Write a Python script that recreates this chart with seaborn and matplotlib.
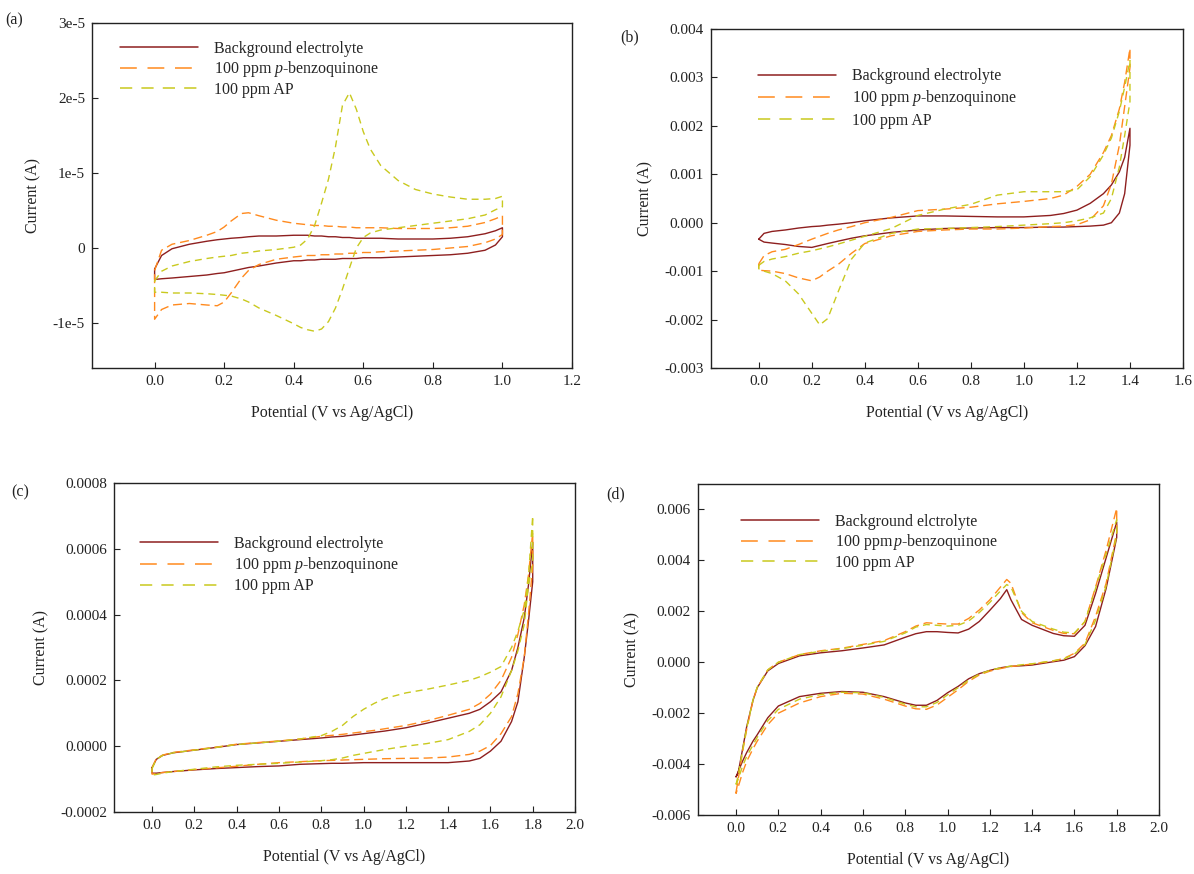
import matplotlib
matplotlib.use("Agg")
import matplotlib.pyplot as plt
from matplotlib.lines import Line2D
import numpy as np
import pandas as pd
import seaborn as sns

# ---------------- data ----------------
SERIES = ["Background electrolyte", "100 ppm $\\mathit{p}$-benzoquinone", "100 ppm AP"]
SERIES_D = ["Background elctrolyte", "100 ppm$\\,\\mathit{p}$-benzoquinone", "100 ppm AP"]

# Panel (a): current in units of 1e-5 A
A_E = [0, 0.02, 0.05, 0.1, 0.15, 0.18, 0.2, 0.22, 0.25, 0.27, 0.3, 0.35, 0.4, 0.42, 0.44, 0.46, 0.48,
       0.5, 0.52, 0.54, 0.56, 0.58, 0.6, 0.62, 0.65, 0.7, 0.75, 0.8, 0.85, 0.9, 0.95, 0.98, 1.0]
A_BG_UP = [-0.28, -0.1, -0.01, 0.05, 0.09, 0.11, 0.12, 0.13, 0.14, 0.15, 0.16, 0.16, 0.17, 0.17, 0.17, 0.16, 0.16,
           0.15, 0.15, 0.14, 0.14, 0.13, 0.13, 0.13, 0.13, 0.12, 0.12, 0.12, 0.13, 0.15, 0.19, 0.23, 0.27]
A_BG_DN = [-0.42, -0.41, -0.4, -0.38, -0.36, -0.34, -0.33, -0.31, -0.28, -0.26, -0.24, -0.2, -0.17, -0.17, -0.16, -0.16, -0.15,
           -0.15, -0.15, -0.14, -0.14, -0.14, -0.13, -0.13, -0.13, -0.12, -0.11, -0.1, -0.09, -0.07, -0.03, 0.04, 0.15]
A_BQ_UP = [-0.3, -0.03, 0.05, 0.1, 0.17, 0.22, 0.28, 0.36, 0.46, 0.47, 0.43, 0.37, 0.33, 0.32, 0.31, 0.3, 0.3,
           0.29, 0.29, 0.28, 0.28, 0.27, 0.27, 0.27, 0.27, 0.26, 0.26, 0.26, 0.27, 0.29, 0.34, 0.39, 0.43]
A_BQ_DN = [-0.95, -0.82, -0.76, -0.74, -0.76, -0.77, -0.72, -0.6, -0.4, -0.3, -0.22, -0.15, -0.12, -0.11, -0.1, -0.1, -0.09,
           -0.09, -0.08, -0.08, -0.07, -0.07, -0.06, -0.06, -0.05, -0.04, -0.03, -0.02, 0.0, 0.02, 0.07, 0.12, 0.18]
A_AP_UP = [-0.44, -0.31, -0.24, -0.18, -0.14, -0.12, -0.11, -0.1, -0.07, -0.06, -0.04, -0.02, 0.01, 0.04, 0.12, 0.3, 0.6,
           0.92, 1.35, 1.9, 2.07, 1.85, 1.55, 1.32, 1.1, 0.9, 0.78, 0.72, 0.68, 0.65, 0.65, 0.66, 0.69]
A_AP_DN = [-0.59, -0.59, -0.6, -0.6, -0.61, -0.62, -0.63, -0.64, -0.68, -0.72, -0.8, -0.9, -1.01, -1.06, -1.09, -1.11, -1.08,
           -0.98, -0.8, -0.55, -0.27, 0.0, 0.14, 0.2, 0.24, 0.27, 0.3, 0.33, 0.36, 0.39, 0.44, 0.51, 0.55]
A_SCALE = 1e-5

# Panel (b): current in mA
B_E = [0, 0.02, 0.05, 0.1, 0.15, 0.2, 0.23, 0.26, 0.3, 0.35, 0.4, 0.5, 0.6, 0.7, 0.8, 0.9, 1.0,
       1.1, 1.15, 1.2, 1.25, 1.3, 1.33, 1.36, 1.38, 1.4]
B_BG_UP = [-0.34, -0.22, -0.18, -0.15, -0.11, -0.08, -0.07, -0.05, -0.03, 0.0, 0.04, 0.1, 0.14, 0.14, 0.13, 0.12, 0.12,
           0.15, 0.19, 0.26, 0.4, 0.6, 0.78, 1.05, 1.35, 1.95]
B_BG_DN = [-0.34, -0.4, -0.42, -0.45, -0.49, -0.51, -0.47, -0.43, -0.38, -0.32, -0.27, -0.2, -0.15, -0.12, -0.11, -0.1, -0.1,
           -0.09, -0.09, -0.08, -0.07, -0.05, 0.0, 0.2, 0.6, 1.6]
B_BQ_UP = [-0.85, -0.68, -0.6, -0.55, -0.45, -0.34, -0.28, -0.22, -0.15, -0.08, 0.0, 0.11, 0.25, 0.28, 0.32, 0.39, 0.44,
           0.5, 0.57, 0.75, 1.0, 1.45, 1.8, 2.35, 2.9, 3.6]
B_BQ_DN = [-0.98, -0.99, -1.0, -1.05, -1.14, -1.2, -1.12, -1.0, -0.86, -0.63, -0.43, -0.27, -0.18, -0.15, -0.13, -0.13, -0.11,
           -0.08, -0.07, -0.04, 0.06, 0.35, 0.8, 1.6, 2.4, 3.2]
B_AP_UP = [-0.88, -0.8, -0.75, -0.7, -0.63, -0.58, -0.54, -0.5, -0.44, -0.36, -0.28, -0.12, 0.15, 0.28, 0.38, 0.57, 0.64,
           0.64, 0.64, 0.68, 0.95, 1.4, 1.75, 2.3, 2.8, 3.35]
B_AP_DN = [-0.95, -1.0, -1.05, -1.2, -1.47, -1.87, -2.11, -1.98, -1.42, -0.75, -0.42, -0.22, -0.13, -0.12, -0.1, -0.08, -0.05,
           -0.02, 0.0, 0.04, 0.1, 0.2, 0.5, 1.15, 1.8, 2.5]
B_SCALE = 1e-3

# Panel (c): current in units of 1e-4 A
C_E = [0, 0.02, 0.05, 0.1, 0.2, 0.3, 0.4, 0.5, 0.6, 0.7, 0.8, 0.85, 0.9, 0.95, 1.0, 1.05, 1.1,
       1.2, 1.3, 1.4, 1.5, 1.55, 1.6, 1.65, 1.7, 1.73, 1.76, 1.78, 1.8]
C_BG_UP = [-0.65, -0.4, -0.28, -0.2, -0.12, -0.04, 0.05, 0.1, 0.15, 0.2, 0.25, 0.28, 0.3, 0.34, 0.38, 0.42, 0.46,
           0.56, 0.7, 0.85, 1.0, 1.12, 1.35, 1.65, 2.3, 3.0, 3.9, 4.9, 6.2]
C_BG_DN = [-0.82, -0.82, -0.8, -0.77, -0.72, -0.68, -0.65, -0.62, -0.6, -0.55, -0.53, -0.52, -0.52, -0.51, -0.5, -0.5, -0.5,
           -0.5, -0.5, -0.5, -0.45, -0.37, -0.15, 0.15, 0.75, 1.35, 2.7, 3.8, 5.0]
C_BQ_UP = [-0.65, -0.38, -0.27, -0.19, -0.11, -0.03, 0.06, 0.11, 0.16, 0.22, 0.3, 0.33, 0.36, 0.4, 0.44, 0.48, 0.53,
           0.63, 0.77, 0.94, 1.12, 1.3, 1.58, 2.0, 2.7, 3.4, 4.3, 5.2, 6.5]
C_BQ_DN = [-0.85, -0.83, -0.8, -0.77, -0.71, -0.66, -0.61, -0.55, -0.5, -0.47, -0.44, -0.43, -0.42, -0.41, -0.4, -0.39, -0.38,
           -0.37, -0.36, -0.33, -0.25, -0.15, 0.02, 0.38, 0.9, 1.6, 2.7, 4.0, 5.5]
C_AP_UP = [-0.68, -0.4, -0.28, -0.2, -0.12, -0.04, 0.05, 0.1, 0.15, 0.22, 0.32, 0.45, 0.63, 0.9, 1.12, 1.3, 1.45,
           1.62, 1.73, 1.86, 2.0, 2.11, 2.25, 2.42, 3.0, 3.5, 4.14, 5.15, 7.0]
C_AP_DN = [-0.88, -0.86, -0.82, -0.77, -0.7, -0.63, -0.58, -0.55, -0.52, -0.48, -0.44, -0.41, -0.36, -0.28, -0.22, -0.16, -0.1,
           0.0, 0.08, 0.2, 0.45, 0.65, 1.0, 1.5, 2.3, 2.9, 3.7, 4.9, 5.6]
C_SCALE = 1e-4

# Panel (d): current in mA
D_E = [0, 0.01, 0.03, 0.05, 0.08, 0.1, 0.15, 0.2, 0.3, 0.4, 0.5, 0.6, 0.7, 0.8, 0.85, 0.9, 0.95,
       1.0, 1.05, 1.1, 1.15, 1.2, 1.25, 1.28, 1.3, 1.35, 1.4, 1.5, 1.55, 1.6, 1.65, 1.7, 1.75, 1.8]
D_BG_UP = [-4.5, -4.35, -3.45, -2.54, -1.5, -1.0, -0.34, -0.05, 0.25, 0.37, 0.45, 0.56, 0.68, 0.98, 1.12, 1.2, 1.2,
           1.17, 1.15, 1.3, 1.6, 2.04, 2.5, 2.85, 2.45, 1.68, 1.45, 1.13, 1.04, 1.02, 1.45, 2.7, 4.1, 5.5]
D_BG_DN = [-4.5, -4.3, -3.9, -3.55, -3.1, -2.85, -2.18, -1.72, -1.35, -1.22, -1.15, -1.18, -1.35, -1.6, -1.69, -1.69, -1.5,
           -1.2, -0.95, -0.65, -0.45, -0.32, -0.22, -0.18, -0.16, -0.14, -0.11, 0.02, 0.08, 0.22, 0.65, 1.4, 2.9, 4.9]
D_BQ_UP = [-5.1, -4.6, -3.55, -2.65, -1.5, -1.0, -0.3, 0.0, 0.3, 0.45, 0.55, 0.7, 0.85, 1.2, 1.42, 1.55, 1.52,
           1.5, 1.5, 1.72, 2.05, 2.45, 2.95, 3.25, 3.1, 1.95, 1.55, 1.25, 1.13, 1.12, 1.6, 2.95, 4.4, 6.05]
D_BQ_DN = [-5.15, -4.9, -4.35, -3.9, -3.4, -3.1, -2.45, -2.0, -1.6, -1.35, -1.22, -1.25, -1.45, -1.72, -1.83, -1.85, -1.68,
           -1.38, -1.08, -0.75, -0.5, -0.35, -0.25, -0.2, -0.17, -0.12, -0.07, 0.05, 0.15, 0.35, 0.75, 1.8, 3.1, 5.1]
D_AP_UP = [-4.8, -4.45, -3.5, -2.6, -1.48, -0.98, -0.3, 0.0, 0.3, 0.43, 0.53, 0.67, 0.82, 1.15, 1.38, 1.48, 1.45,
           1.42, 1.45, 1.62, 1.95, 2.35, 2.8, 3.05, 2.95, 2.0, 1.6, 1.3, 1.18, 1.15, 1.6, 2.9, 4.25, 5.6]
D_AP_DN = [-4.8, -4.6, -4.1, -3.7, -3.25, -2.95, -2.3, -1.85, -1.45, -1.27, -1.18, -1.2, -1.38, -1.65, -1.75, -1.75, -1.58,
           -1.28, -1.0, -0.7, -0.47, -0.32, -0.22, -0.18, -0.15, -0.1, -0.06, 0.06, 0.13, 0.32, 0.7, 1.65, 3.0, 5.0]
D_SCALE = 1e-3

# ---------------- style ----------------
sns.set_theme(style="white")
plt.rcParams["font.family"] = ["Liberation Serif", "DejaVu Serif"]
plt.rcParams["mathtext.fontset"] = "custom"
plt.rcParams["mathtext.rm"] = "Liberation Serif"
plt.rcParams["mathtext.it"] = "Liberation Serif:italic"
plt.rcParams["axes.unicode_minus"] = False

COLORS = ["#8E1F1F", "#FF8A1E", "#C9C91E"]
KEYS = ["bg", "bq", "ap"]
DASHES = {"bg": "", "bq": (6.5, 3.5), "ap": (5, 3.5)}
LEG_DASHES = [None, (11, 7), (8, 6)]

fig = plt.figure(figsize=(11.94, 8.74), dpi=100)


def loop_frame(E, curves, scale):
    rows = []
    for key, (up, dn) in zip(KEYS, curves):
        xs = list(E) + list(E[::-1]) + [E[0]]
        ys = list(up) + list(dn[::-1]) + [up[0]]
        for i, (x, y) in enumerate(zip(xs, ys)):
            rows.append({"E": x, "I": y * scale, "series": key, "order": i})
    return pd.DataFrame(rows)


PANELS = [
    dict(rect=[92, 23, 572, 368], E=A_E, curves=[(A_BG_UP, A_BG_DN), (A_BQ_UP, A_BQ_DN), (A_AP_UP, A_AP_DN)],
         scale=A_SCALE, xlim=(-0.18, 1.2), xticks=np.arange(0, 1.21, 0.2), ylim=(-1.6e-5, 3e-5),
         yticks=[-1e-5, 0, 1e-5, 2e-5, 3e-5], ylabels=["-1e-5", "0", "1e-5", "2e-5", "3e-5"],
         labels=SERIES, leg=(0.058, 0.948, 0.16), tag=("(a)", 14, 20)),
    dict(rect=[711, 29, 1183, 368], E=B_E, curves=[(B_BG_UP, B_BG_DN), (B_BQ_UP, B_BQ_DN), (B_AP_UP, B_AP_DN)],
         scale=B_SCALE, xlim=(-0.18, 1.6), xticks=np.arange(0, 1.61, 0.2), ylim=(-0.003, 0.004),
         yticks=np.arange(-0.003, 0.0041, 0.001), yfmt="%.3f",
         labels=SERIES, leg=(0.0996, 0.884, 0.26), tag=("(b)", 630, 37)),
    dict(rect=[114, 483, 575, 812], E=C_E, curves=[(C_BG_UP, C_BG_DN), (C_BQ_UP, C_BQ_DN), (C_AP_UP, C_AP_DN)],
         scale=C_SCALE, xlim=(-0.18, 2.0), xticks=np.arange(0, 2.01, 0.2), ylim=(-0.0002, 0.0008),
         yticks=np.arange(-0.0002, 0.00081, 0.0002), yfmt="%.4f",
         labels=SERIES, leg=(0.056, 0.839, 0.2), tag=("(c)", 20, 492)),
    dict(rect=[698, 484, 1159, 815], E=D_E, curves=[(D_BG_UP, D_BG_DN), (D_BQ_UP, D_BQ_DN), (D_AP_UP, D_AP_DN)],
         scale=D_SCALE, xlim=(-0.18, 2.0), xticks=np.arange(0, 2.01, 0.2), ylim=(-0.006, 0.007),
         yticks=np.arange(-0.006, 0.0061, 0.002), yfmt="%.3f",
         labels=SERIES_D, leg=(0.093, 0.910, 0.15), tag=("(d)", 616, 494)),
]

W, H = 1194.0, 874.0
for p in PANELS:
    l, t, r, b = p["rect"]
    ax = fig.add_axes([l / W, 1 - b / H, (r - l) / W, (b - t) / H])
    df = loop_frame(p["E"], p["curves"], p["scale"])
    sns.lineplot(data=df, x="E", y="I", hue="series", style="series", hue_order=KEYS, style_order=KEYS,
                 palette=dict(zip(KEYS, COLORS)), dashes=DASHES, sort=False, estimator=None,
                 linewidth=1.0, legend=False, ax=ax)
    ax.set_xlim(*p["xlim"])
    ax.set_ylim(*p["ylim"])
    ax.set_xticks(p["xticks"])
    ax.set_xticklabels(["%.1f" % v for v in p["xticks"]])
    ax.set_yticks(p["yticks"])
    if "ylabels" in p:
        ax.set_yticklabels(p["ylabels"])
    else:
        ax.set_yticklabels([p["yfmt"] % (0 if abs(v) < 1e-12 else v) for v in p["yticks"]])
    ax.tick_params(axis="both", which="both", direction="in", length=4, width=0.8,
                   bottom=True, left=True, top=False, right=False, labelsize=11, pad=5,
                   colors="#222222", labelcolor="#222222")
    for s in ax.spines.values():
        s.set_color("#222222")
        s.set_linewidth(1.0)
    ax.set_xlabel("Potential (V vs Ag/AgCl)", fontsize=11.5, labelpad=12, color="#222222")
    ax.set_ylabel("Current (A)", fontsize=11.5, labelpad=8, color="#222222")
    handles = []
    for c, d in zip(COLORS, LEG_DASHES):
        h = Line2D([], [], color=c, lw=1.1)
        if d is not None:
            h.set_dashes(d)
        handles.append(h)
    lx, ly, sp = p["leg"]
    ax.legend(handles, p["labels"], loc="upper left", bbox_to_anchor=(lx, ly), frameon=False,
              fontsize=11.5, handlelength=4.9, handletextpad=1.0, labelspacing=sp,
              borderpad=0, borderaxespad=0)
    tag, tx, ty = p["tag"]
    fig.text(tx / W, 1 - ty / H, tag, fontsize=11.5, ha="center", va="center", color="#222222")

fig.savefig("out.png", dpi=100, facecolor="white")
